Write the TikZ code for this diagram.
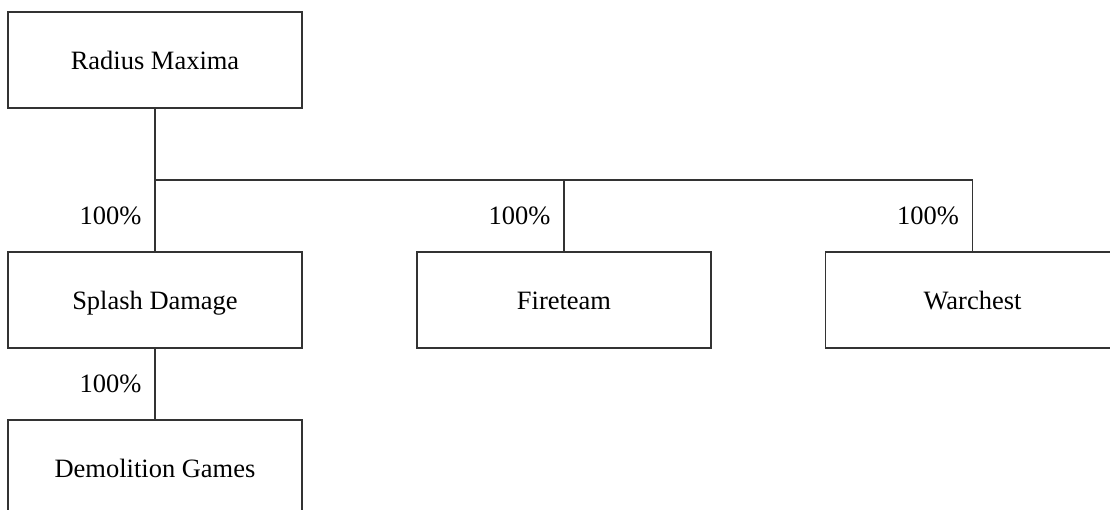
\documentclass[tikz,border=0pt]{standalone}
\usepackage{fontspec}
\setmainfont{Liberation Serif}
\begin{document}
\begin{tikzpicture}[x=0.015cm, y=-0.015cm,
		company/.style={draw=black!80, line width=0.6pt, rectangle, minimum width=4.41cm, minimum height=1.44cm, text height=0.95em, text depth=0.1em, font=\fontsize{11.3}{13}\selectfont},
		link/.style={draw=black!80, line width=0.6pt},
		pct/.style={left=5.5pt, inner sep=0pt, font=\fontsize{11.3}{13}\selectfont}]
				\clip (0,0) rectangle (1110,509);

				% Parent
				\node[company] (radius) at (155,60) {Radius Maxima};

				% Subsidiaries
				\node[company] (splash) at (155,300) {Splash Damage};
				\node[company] (fireteam) at (564,300) {Fireteam};
				\node[company] (warchest) at (972.5,300) {Warchest};
				\node[company] (demolition) at (155,468) {Demolition Games};

				% Bus line
				\coordinate (busA) at (155,180);
				\coordinate (busB) at (564,180);
				\coordinate (busC) at (972.5,180);
				\draw[link] (radius.south) -- (busA) -- (busC);

				% Ownership links
				\draw[link] (busA) -- node[pct] {100\%} (splash.north);
				\draw[link] (busB) -- node[pct] {100\%} (fireteam.north);
				\draw[link] (busC) -- node[pct] {100\%} (warchest.north);
				\draw[link] (splash.south) -- node[pct] {100\%} (demolition.north);
\end{tikzpicture}
\end{document}
